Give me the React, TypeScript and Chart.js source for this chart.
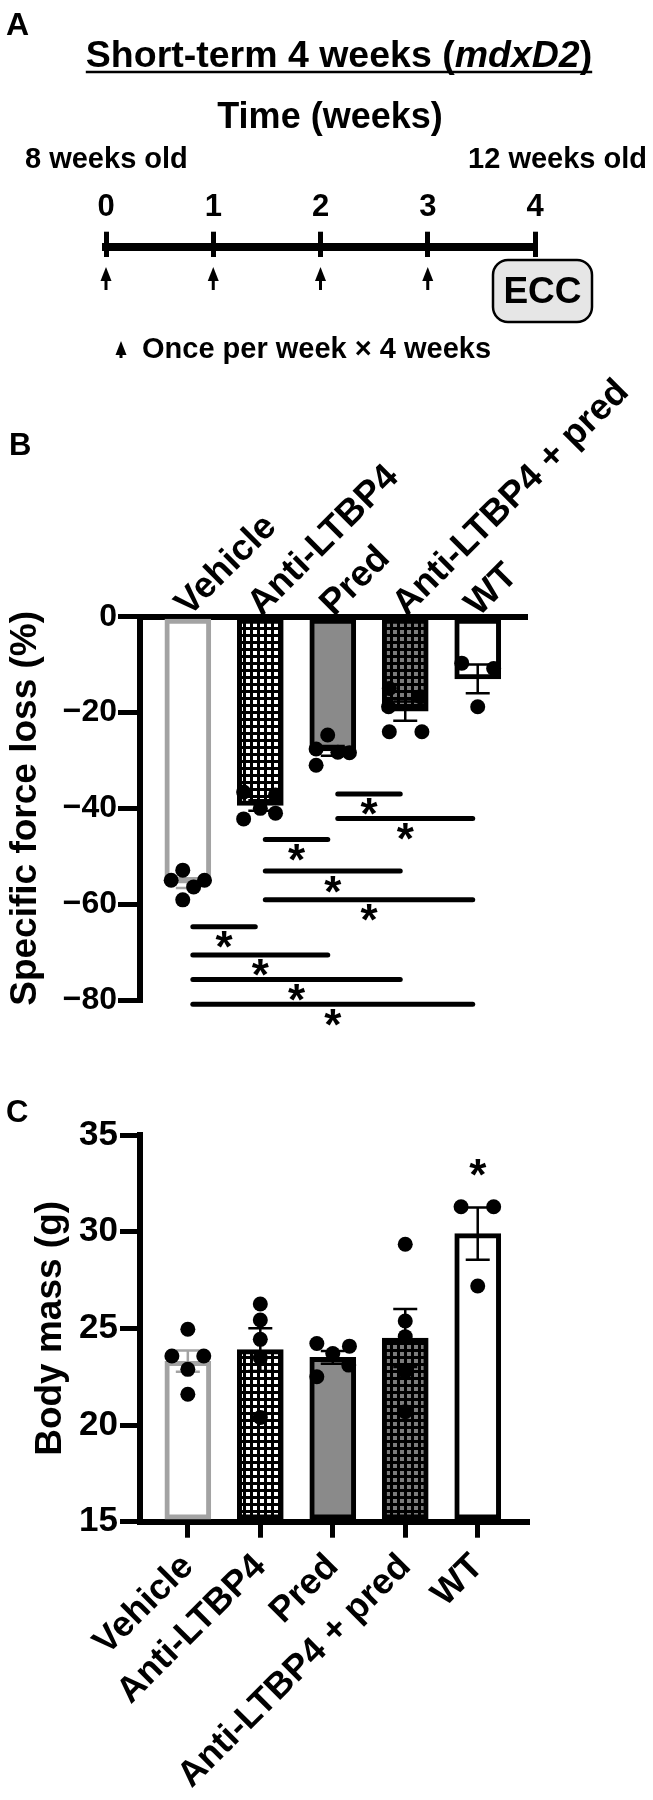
import React, { useEffect, useRef } from 'react';
import { Chart, registerables } from 'chart.js';

Chart.register(...registerables);

const FONT = "'Liberation Sans', Arial, Helvetica, sans-serif";

// ---------- Panel A (timeline) ----------
const weeks = [0, 1, 2, 3, 4];
const doseWeeks = [0, 1, 2, 3];
const endpointWeek = 4;
const titleParts = ['Short-term 4 weeks (', 'mdxD2', ')'];
const timeAxisTitle = 'Time (weeks)';
const startAgeLabel = '8 weeks old';
const endAgeLabel = '12 weeks old';
const endpointLabel = 'ECC';
const doseLegend = 'Once per week \u00d7 4 weeks';

// ---------- Groups ----------
const groups = ['Vehicle', 'Anti-LTBP4', 'Pred', 'Anti-LTBP4 + pred', 'WT'];

// ---------- Panel B (specific force loss, %) ----------
const forceLossMean = [-55.6, -39.4, -28.0, -19.7, -13.0];
const forceLossSem = [1.0, 1.1, 1.0, 2.0, 3.0];
const forceLossPoints = [
  [-52.9, -55.0, -55.0, -56.4, -59.1],
  [-36.6, -37.2, -42.2, -40.0, -41.0],
  [-24.7, -27.6, -28.3, -28.4, -31.0],
  [-15.0, -16.7, -18.8, -24.0, -24.0],
  [-9.7, -10.8, -18.8],
];
const forceLossJitter = [
  [-0.07, -0.23, 0.23, 0.08, -0.07],
  [-0.23, 0.21, -0.23, 0, 0.21],
  [-0.07, -0.23, 0.07, 0.23, -0.23],
  [-0.22, 0.21, -0.23, -0.22, 0.23],
  [-0.22, 0.22, 0],
];
const forceLossTicks = [-80, -60, -40, -20, 0];
// [groupA, groupB, level of bar]
const forceLossComparisons = [
  [2, 3, -37.0],
  [2, 4, -42.1],
  [1, 2, -46.5],
  [1, 3, -53.1],
  [1, 4, -59.1],
  [0, 1, -64.7],
  [0, 2, -70.6],
  [0, 3, -75.7],
  [0, 4, -80.9],
];

// ---------- Panel C (body mass, g) ----------
const bodyMassMean = [23.3, 23.9, 23.5, 24.5, 29.9];
const bodyMassSem = [0.55, 1.1, 0.33, 1.5, 1.35];
const bodyMassPoints = [
  [24.95, 23.57, 23.57, 22.88, 21.59],
  [26.26, 25.43, 24.43, 23.48, 20.39],
  [24.22, 24.08, 23.7, 23.1, 22.5],
  [29.35, 25.38, 24.57, 22.79, 20.69],
  [31.29, 31.29, 27.19],
];
const bodyMassJitter = [
  [0, -0.22, 0.22, 0, 0],
  [0, 0, 0, 0, 0],
  [-0.22, 0.23, 0, 0.22, -0.22],
  [0, 0, 0, 0, 0],
  [-0.23, 0.22, 0],
];
const bodyMassTicks = [15, 20, 25, 30, 35];
const bodyMassSignificance = [{ group: 4, level: 33.3 }];

// ---------- styles ----------
function gridPattern(square: string, period: number, sq: number) {
  const c = document.createElement('canvas');
  c.width = period;
  c.height = period;
  const g = c.getContext('2d')!;
  g.fillStyle = '#000';
  g.fillRect(0, 0, period, period);
  g.fillStyle = square;
  g.fillRect(1, 1, sq, sq);
  return g.createPattern(c, 'repeat')!;
}

function barFills() {
  return ['#ffffff', gridPattern('#ffffff', 7, 4), '#8a8a8a', gridPattern('#7c7c7c', 7, 4), '#ffffff'];
}
const barBorders = ['#a3a3a3', '#000000', '#000000', '#000000', '#000000'];

const bold = (size: number) => ({ family: FONT, size, weight: 'bold' as const });
const minusFmt = (v: number) => String(v).replace('-', '\u2212');

function pointsData(points: number[][], jitter: number[][]) {
  const out: { x: number; y: number }[] = [];
  points.forEach((arr, i) => arr.forEach((v, j) => out.push({ x: i + 1 + jitter[i][j], y: v })));
  return out;
}

function drawErrorBars(chart: any, means: number[], sems: number[]) {
  const { ctx } = chart;
  const xs = chart.scales.x;
  const ys = chart.scales.y;
  ctx.save();
  ctx.lineWidth = 2.5;
  means.forEach((m, i) => {
    const x = xs.getPixelForValue(i + 1);
    const yHi = ys.getPixelForValue(m + sems[i]);
    const yLo = ys.getPixelForValue(m - sems[i]);
    ctx.strokeStyle = barBorders[i];
    ctx.beginPath();
    ctx.moveTo(x, yHi);
    ctx.lineTo(x, yLo);
    ctx.moveTo(x - 12, yHi);
    ctx.lineTo(x + 12, yHi);
    ctx.moveTo(x - 12, yLo);
    ctx.lineTo(x + 12, yLo);
    ctx.stroke();
  });
  ctx.restore();
}

function drawStar(ctx: CanvasRenderingContext2D, x: number, cy: number) {
  ctx.font = `bold 44px ${FONT}`;
  ctx.textAlign = 'center';
  ctx.textBaseline = 'alphabetic';
  const m = ctx.measureText('*');
  ctx.fillText('*', x, cy + (m.actualBoundingBoxAscent - m.actualBoundingBoxDescent) / 2);
}

function drawArrow(ctx: CanvasRenderingContext2D, x: number, top: number, bottom: number) {
  ctx.beginPath();
  ctx.moveTo(x, top);
  ctx.lineTo(x - 5.5, top + 14);
  ctx.lineTo(x + 5.5, top + 14);
  ctx.closePath();
  ctx.fill();
  ctx.lineWidth = 3;
  ctx.beginPath();
  ctx.moveTo(x, top + 10);
  ctx.lineTo(x, bottom);
  ctx.stroke();
}

// ---------- configs ----------
function panelAConfig(): any {
  const plugin = {
    id: 'panelA',
    afterDraw(chart: any) {
      const { ctx } = chart;
      const xs = chart.scales.x;
      ctx.save();
      ctx.fillStyle = '#000';
      ctx.strokeStyle = '#000';
      ctx.textBaseline = 'alphabetic';
      ctx.textAlign = 'left';
      ctx.font = `bold 32px ${FONT}`;
      ctx.fillText('A', 6, 35);

      // underlined title with italic strain name
      const fonts = titleParts.map((_, i) => (i === 1 ? `italic bold 37.5px ${FONT}` : `bold 37.5px ${FONT}`));
      const widths = titleParts.map((t, i) => {
        ctx.font = fonts[i];
        return ctx.measureText(t).width;
      });
      const total = widths.reduce((a, b) => a + b, 0);
      let x = 339 - total / 2;
      const x0 = x;
      titleParts.forEach((t, i) => {
        ctx.font = fonts[i];
        ctx.fillText(t, x, 67);
        x += widths[i];
      });
      ctx.lineWidth = 2.5;
      ctx.beginPath();
      ctx.moveTo(x0, 72);
      ctx.lineTo(x, 72);
      ctx.stroke();

      ctx.font = `bold 36px ${FONT}`;
      ctx.textAlign = 'center';
      ctx.fillText(timeAxisTitle, 330, 128);

      ctx.font = `bold 29px ${FONT}`;
      ctx.textAlign = 'left';
      ctx.fillText(startAgeLabel, 25, 168);
      ctx.textAlign = 'right';
      ctx.fillText(endAgeLabel, 647, 168);

      // dosing arrows
      doseWeeks.forEach((w) => drawArrow(ctx, xs.getPixelForValue(w), 267, 290));

      // endpoint box
      const ex = xs.getPixelForValue(endpointWeek);
      ctx.beginPath();
      ctx.roundRect(ex - 42, 260, 99, 62, 15);
      ctx.fillStyle = '#e6e6e6';
      ctx.fill();
      ctx.lineWidth = 2.5;
      ctx.stroke();
      ctx.fillStyle = '#000';
      ctx.font = `bold 37px ${FONT}`;
      ctx.textAlign = 'center';
      ctx.textBaseline = 'middle';
      ctx.fillText(endpointLabel, ex + 7.5, 293);

      // legend
      ctx.textBaseline = 'alphabetic';
      drawArrow(ctx, 121, 341, 358);
      ctx.font = `bold 29px ${FONT}`;
      ctx.textAlign = 'left';
      ctx.fillText(doseLegend, 142, 358);
      ctx.restore();
    },
  };
  return {
    type: 'scatter',
    data: { datasets: [{ data: doseWeeks.map((w) => ({ x: w, y: 0.5 })), pointRadius: 0 }] },
    options: {
      animation: false,
      responsive: true,
      maintainAspectRatio: false,
      events: [],
      layout: { padding: { left: 106, right: 118, top: 0, bottom: 123 } },
      plugins: { legend: { display: false }, tooltip: { enabled: false } },
      scales: {
        x: {
          type: 'linear',
          position: 'top',
          min: 0,
          max: 4,
          offset: false,
          afterBuildTicks: (s: any) => {
            s.ticks = weeks.map((w) => ({ value: w }));
          },
          afterFit: (s: any) => {
            s.height = 246.7;
            s.paddingLeft = 0;
            s.paddingRight = 0;
          },
          grid: { display: true, drawOnChartArea: true, drawTicks: true, tickLength: 15, lineWidth: 5, color: '#000', offset: false },
          border: { display: true, color: '#000', width: 8 },
          ticks: { padding: 6, color: '#000', font: bold(31), autoSkip: false, maxRotation: 0, callback: (v: number) => String(v) },
        },
        y: { display: false, min: 0, max: 1 },
      },
    },
    plugins: [plugin],
  };
}

const B_TOP = 300;

function panelBConfig(): any {
  const plugin = {
    id: 'panelB',
    afterDatasetDraw(chart: any, args: any) {
      if (args.index === 0) drawErrorBars(chart, forceLossMean, forceLossSem);
    },
    afterDraw(chart: any) {
      const { ctx } = chart;
      const xs = chart.scales.x;
      const ys = chart.scales.y;
      ctx.save();
      ctx.fillStyle = '#000';
      ctx.strokeStyle = '#000';
      ctx.font = `bold 31px ${FONT}`;
      ctx.textAlign = 'left';
      ctx.textBaseline = 'alphabetic';
      ctx.fillText('B', 9, 455 - B_TOP);
      ctx.lineWidth = 5;
      ctx.lineCap = 'round';
      forceLossComparisons.forEach(([a, b, level]) => {
        const x1 = xs.getPixelForValue(a + 1) + 5;
        const x2 = xs.getPixelForValue(b + 1) - 5;
        const y = ys.getPixelForValue(level);
        ctx.beginPath();
        ctx.moveTo(x1, y);
        ctx.lineTo(x2, y);
        ctx.stroke();
        drawStar(ctx, (x1 + x2) / 2, y + 13);
      });
      ctx.restore();
    },
  };
  return {
    type: 'bar',
    data: {
      datasets: [
        {
          type: 'bar',
          data: forceLossMean.map((v, i) => ({ x: i + 1, y: v })),
          backgroundColor: barFills(),
          borderColor: barBorders,
          borderWidth: 5,
          borderSkipped: false,
          barThickness: 46,
          order: 2,
        },
        {
          type: 'scatter',
          data: pointsData(forceLossPoints, forceLossJitter),
          pointRadius: 7.5,
          pointBackgroundColor: '#000',
          pointBorderWidth: 0,
          clip: false,
          order: 1,
        },
      ],
    },
    options: {
      animation: false,
      responsive: true,
      maintainAspectRatio: false,
      events: [],
      layout: { padding: { left: 0, right: 126, top: 0, bottom: 50 } },
      plugins: { legend: { display: false }, tooltip: { enabled: false } },
      scales: {
        x: {
          type: 'linear',
          position: 'top',
          min: 0.34,
          max: 5.68,
          offset: false,
          afterBuildTicks: (s: any) => {
            s.ticks = groups.map((_, i) => ({ value: i + 1 }));
          },
          afterFit: (s: any) => {
            s.height = 616.7 - B_TOP;
            s.paddingLeft = 0;
            s.paddingRight = 0;
          },
          grid: { display: false, drawTicks: false, offset: false },
          border: { display: true, color: '#000', width: 6 },
          ticks: {
            autoSkip: false,
            minRotation: 45,
            maxRotation: 45,
            padding: -9,
            labelOffset: 25,
            color: '#000',
            font: bold(36.5),
            callback: (v: number) => groups[v - 1] ?? '',
          },
        },
        y: {
          min: -80,
          max: 0,
          afterBuildTicks: (s: any) => {
            s.ticks = forceLossTicks.map((v) => ({ value: v }));
          },
          afterFit: (s: any) => {
            s.width = 140;
          },
          grid: { display: true, drawOnChartArea: false, drawTicks: true, tickLength: 22, lineWidth: 5, color: '#000' },
          border: { display: true, color: '#000', width: 6 },
          ticks: { padding: 1, color: '#000', font: bold(32), callback: (v: number) => minusFmt(v) },
          title: { display: true, text: 'Specific force loss (%)', color: '#000', font: bold(37), padding: { top: 4, bottom: 0 } },
        },
      },
    },
    plugins: [plugin],
  };
}

function panelCConfig(): any {
  const plugin = {
    id: 'panelC',
    afterDatasetDraw(chart: any, args: any) {
      if (args.index === 0) drawErrorBars(chart, bodyMassMean, bodyMassSem);
    },
    afterDraw(chart: any) {
      const { ctx } = chart;
      const xs = chart.scales.x;
      const ys = chart.scales.y;
      ctx.save();
      ctx.fillStyle = '#000';
      ctx.font = `bold 31px ${FONT}`;
      ctx.textAlign = 'left';
      ctx.textBaseline = 'alphabetic';
      ctx.fillText('C', 6, 72);
      bodyMassSignificance.forEach((s) => {
        drawStar(ctx, xs.getPixelForValue(s.group + 1), ys.getPixelForValue(s.level));
      });
      ctx.restore();
    },
  };
  return {
    type: 'bar',
    data: {
      datasets: [
        {
          type: 'bar',
          data: bodyMassMean.map((v, i) => ({ x: i + 1, y: v })),
          backgroundColor: barFills(),
          borderColor: barBorders,
          borderWidth: 5,
          borderSkipped: false,
          barThickness: 46,
          base: 15,
          order: 2,
        },
        {
          type: 'scatter',
          data: pointsData(bodyMassPoints, bodyMassJitter),
          pointRadius: 7.5,
          pointBackgroundColor: '#000',
          pointBorderWidth: 0,
          clip: false,
          order: 1,
        },
      ],
    },
    options: {
      animation: false,
      responsive: true,
      maintainAspectRatio: false,
      events: [],
      layout: { padding: { left: 0, right: 126, top: 85, bottom: 0 } },
      plugins: { legend: { display: false }, tooltip: { enabled: false } },
      scales: {
        x: {
          type: 'linear',
          position: 'bottom',
          min: 0.34,
          max: 5.68,
          offset: false,
          afterBuildTicks: (s: any) => {
            s.ticks = groups.map((_, i) => ({ value: i + 1 }));
          },
          afterFit: (s: any) => {
            s.height = 278.3;
            s.paddingLeft = 0;
            s.paddingRight = 0;
          },
          grid: { display: true, drawOnChartArea: false, drawTicks: true, tickLength: 16, lineWidth: 5, color: '#000', offset: false },
          border: { display: true, color: '#000', width: 6 },
          ticks: {
            autoSkip: false,
            minRotation: 45,
            maxRotation: 45,
            padding: 8,
            color: '#000',
            font: bold(36),
            callback: (v: number) => groups[v - 1] ?? '',
          },
        },
        y: {
          min: 15,
          max: 35,
          afterBuildTicks: (s: any) => {
            s.ticks = bodyMassTicks.map((v) => ({ value: v }));
          },
          afterFit: (s: any) => {
            s.width = 140;
          },
          grid: { display: true, drawOnChartArea: false, drawTicks: true, tickLength: 20, lineWidth: 5, color: '#000' },
          border: { display: true, color: '#000', width: 6 },
          ticks: { padding: 2, color: '#000', font: bold(35) },
          title: { display: true, text: 'Body mass (g)', color: '#000', font: bold(37), padding: { top: 29, bottom: 0 } },
        },
      },
    },
    plugins: [plugin],
  };
}

function ChartBox({ top, height, make }: { top: number; height: number; make: () => any }) {
  const ref = useRef<HTMLCanvasElement | null>(null);
  useEffect(() => {
    const chart = new Chart(ref.current!, make());
    return () => chart.destroy();
  }, []);
  return (
    <div style={{ position: 'absolute', left: 0, top, width: 653, height }}>
      <canvas ref={ref} style={{ display: 'block' }} />
    </div>
  );
}

export default function App() {
  return (
    <div style={{ position: 'absolute', left: 0, top: 0, width: 653, height: 1800, background: '#fff', overflow: 'hidden' }}>
      <ChartBox top={0} height={380} make={panelAConfig} />
      <ChartBox top={B_TOP} height={1050 - B_TOP} make={panelBConfig} />
      <ChartBox top={1050} height={750} make={panelCConfig} />
    </div>
  );
}
